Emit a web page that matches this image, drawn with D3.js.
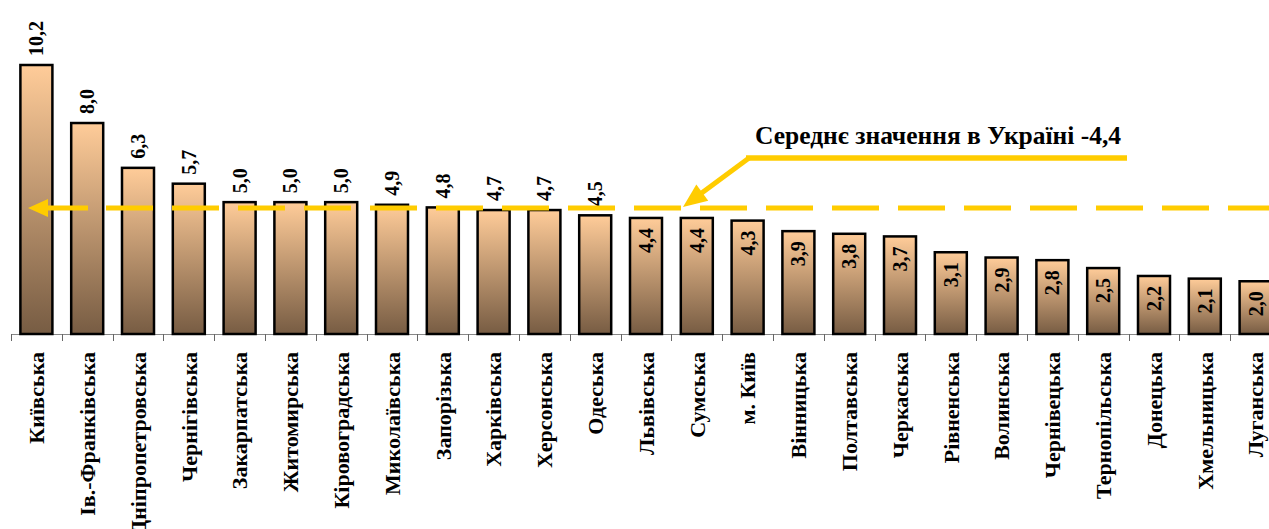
<!DOCTYPE html>
<html>
<head>
<meta charset="utf-8">
<script src="https://cdn.jsdelivr.net/npm/d3@7"></script>
<style>
  body { margin: 0; background: #fff; }
  svg { display: block; }
</style>
</head>
<body>
<div id="chart"></div>
<script>
// дані
var regions = ["Київська", "Ів.-Франківська", "Дніпропетровська", "Чернігівська", "Закарпатська",
  "Житомирська", "Кіровоградська", "Миколаївська", "Запорізька", "Харківська", "Херсонська",
  "Одеська", "Львівська", "Сумська", "м. Київ", "Вінницька", "Полтавська", "Черкаська",
  "Рівненська", "Волинська", "Чернівецька", "Тернопільська", "Донецька", "Хмельницька", "Луганська"];
var values = [10.2, 8.0, 6.3, 5.7, 5.0, 5.0, 5.0, 4.9, 4.8, 4.7, 4.7, 4.5, 4.4, 4.4, 4.3,
  3.9, 3.8, 3.7, 3.1, 2.9, 2.8, 2.5, 2.2, 2.1, 2.0];
var meanLabel = "Середнє значення в Україні -4,4";
var meanLevel = 4.78; // лінія на малюнку проведена трохи вище за 4,4

var width = 1269, height = 529;
var baseY = 334;

var svg = d3.select("#chart").append("svg")
  .attr("width", width)
  .attr("height", height)
  .attr("font-family", "'Liberation Serif', 'Times New Roman', 'DejaVu Serif', serif")
  .attr("font-weight", "bold");

// градієнт стовпчиків
var grad = svg.append("defs").append("linearGradient")
  .attr("id", "barGrad")
  .attr("x1", 0).attr("y1", 0).attr("x2", 0).attr("y2", 1);
grad.append("stop").attr("offset", "0%").attr("stop-color", "#ffcc99");
grad.append("stop").attr("offset", "100%").attr("stop-color", "#775c43");

var x = d3.scaleBand()
  .domain(regions)
  .range([11, 11 + 50.8 * regions.length])
  .paddingInner(0.37)
  .paddingOuter(0.185);

var y = d3.scaleLinear()
  .domain([0, 10.2])
  .range([baseY, 65]);

var fmt = function(v) { return d3.format(".1f")(v).replace(".", ","); };

// вісь
var axis = svg.append("g").attr("class", "x axis");
axis.append("line")
  .attr("x1", 11).attr("x2", width)
  .attr("y1", baseY + 0.5).attr("y2", baseY + 0.5)
  .attr("stroke", "#888").attr("stroke-width", 1);
axis.selectAll("line.tick")
  .data(regions)
  .enter().append("line")
  .attr("class", "tick")
  .attr("x1", function(d) { return Math.round(x(d) - x.step() * 0.185) + 0.5; })
  .attr("x2", function(d) { return Math.round(x(d) - x.step() * 0.185) + 0.5; })
  .attr("y1", baseY).attr("y2", baseY + 7)
  .attr("stroke", "#666").attr("stroke-width", 1);

// стовпчики
svg.selectAll("rect.bar")
  .data(values)
  .enter().append("rect")
  .attr("class", "bar")
  .attr("x", function(d, i) { return x(regions[i]); })
  .attr("y", function(d) { return y(d); })
  .attr("width", x.bandwidth())
  .attr("height", function(d) { return baseY - y(d); })
  .attr("fill", "url(#barGrad)")
  .attr("stroke", "#000")
  .attr("stroke-width", 2.5);

// підписи значень
svg.selectAll("text.val")
  .data(values)
  .enter().append("text")
  .attr("class", "val")
  .attr("transform", function(d, i) {
    var cx = x(regions[i]) + x.bandwidth() / 2;
    var ty = d >= 4.5 ? y(d) - 9 : y(d) + 10;
    return "translate(" + cx + "," + ty + ") rotate(-90)";
  })
  .attr("text-anchor", function(d) { return d >= 4.5 ? "start" : "end"; })
  .attr("dy", "0.35em")
  .attr("font-size", 20)
  .text(fmt);

// назви областей
svg.selectAll("text.cat")
  .data(regions)
  .enter().append("text")
  .attr("class", "cat")
  .attr("transform", function(d) {
    return "translate(" + (x(d) + x.bandwidth() / 2) + "," + 352 + ") rotate(-90)";
  })
  .attr("text-anchor", "end")
  .attr("dy", "0.35em")
  .attr("font-size", 22)
  .text(function(d) { return d; });

// середнє значення
var yellow = "#ffcc00";
var my = y(meanLevel);
svg.append("line")
  .attr("x1", 106).attr("x2", width)
  .attr("y1", my).attr("y2", my)
  .attr("stroke", yellow).attr("stroke-width", 5)
  .attr("stroke-dasharray", "47,19");

function arrow(x1, y1, x2, y2, len, half) {
  var a = Math.atan2(y2 - y1, x2 - x1);
  var bx = x2 - len * Math.cos(a), by = y2 - len * Math.sin(a);
  svg.append("line")
    .attr("x1", x1).attr("y1", y1).attr("x2", bx + 2 * Math.cos(a)).attr("y2", by + 2 * Math.sin(a))
    .attr("stroke", yellow).attr("stroke-width", 5);
  var px = -Math.sin(a) * half, py = Math.cos(a) * half;
  svg.append("polygon")
    .attr("points", [[x2, y2], [bx + px, by + py], [bx - px, by - py]].map(function(p) { return p.join(","); }).join(" "))
    .attr("fill", yellow);
}

arrow(88, my, 28, my, 20, 9);

svg.append("line")
  .attr("x1", 746).attr("x2", 1127)
  .attr("y1", 158).attr("y2", 158)
  .attr("stroke", yellow).attr("stroke-width", 5.5);
arrow(749, 158, 683, my - 1, 24, 10);

svg.append("text")
  .attr("x", 755).attr("y", 144)
  .attr("font-size", 25.5)
  .text(meanLabel);
</script>
</body>
</html>
